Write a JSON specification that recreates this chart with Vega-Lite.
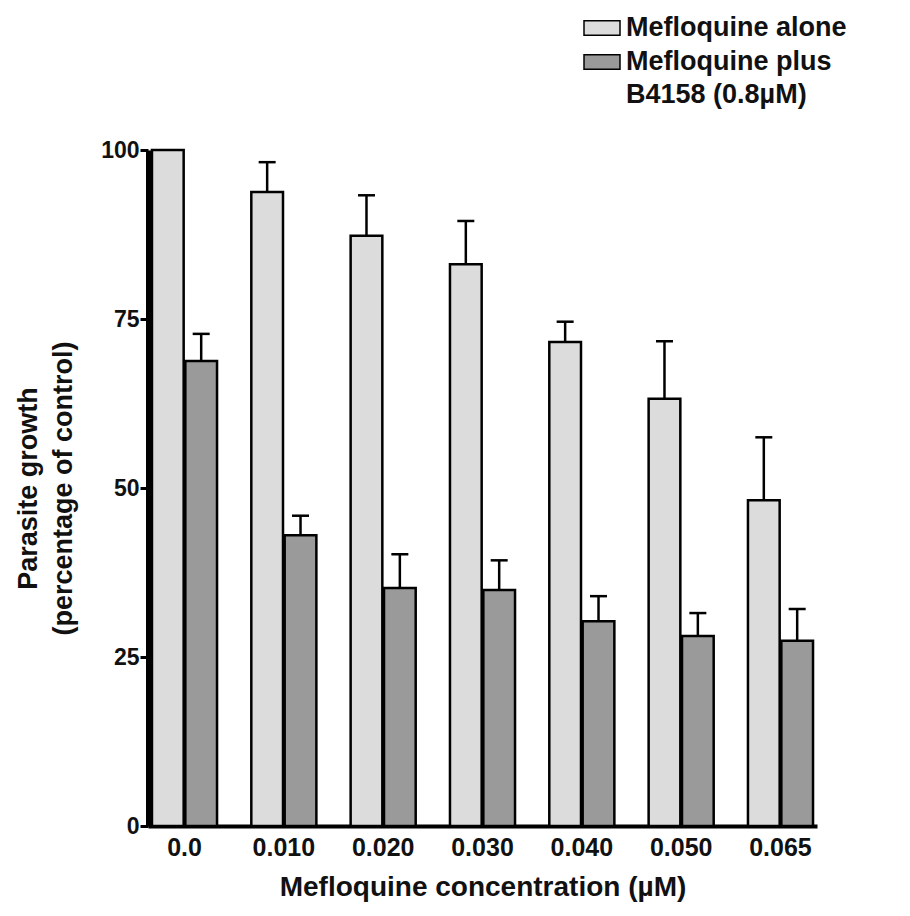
{
  "$schema": "https://vega.github.io/schema/vega-lite/v6.json",
  "autosize": {"type": "none"},
  "width": 669,
  "height": 676,
  "padding": {"left": 148, "top": 150, "right": 93, "bottom": 90},
  "background": "white",
  "config": {
    "view": {"stroke": null},
    "font": "Liberation Sans"
  },
  "data": {
    "values": [
      {"conc": "0.0", "group": "Mefloquine alone", "value": 100, "upper": null},
      {"conc": "0.0", "group": "Mefloquine plus B4158 (0.8µM)", "value": 68.8, "upper": 72.8},
      {"conc": "0.010", "group": "Mefloquine alone", "value": 93.8, "upper": 98.2},
      {"conc": "0.010", "group": "Mefloquine plus B4158 (0.8µM)", "value": 43.0, "upper": 45.9},
      {"conc": "0.020", "group": "Mefloquine alone", "value": 87.3, "upper": 93.3},
      {"conc": "0.020", "group": "Mefloquine plus B4158 (0.8µM)", "value": 35.2, "upper": 40.2},
      {"conc": "0.030", "group": "Mefloquine alone", "value": 83.1, "upper": 89.5},
      {"conc": "0.030", "group": "Mefloquine plus B4158 (0.8µM)", "value": 34.9, "upper": 39.3},
      {"conc": "0.040", "group": "Mefloquine alone", "value": 71.6, "upper": 74.6},
      {"conc": "0.040", "group": "Mefloquine plus B4158 (0.8µM)", "value": 30.3, "upper": 34.0},
      {"conc": "0.050", "group": "Mefloquine alone", "value": 63.2, "upper": 71.7},
      {"conc": "0.050", "group": "Mefloquine plus B4158 (0.8µM)", "value": 28.1, "upper": 31.5},
      {"conc": "0.065", "group": "Mefloquine alone", "value": 48.2, "upper": 57.5},
      {"conc": "0.065", "group": "Mefloquine plus B4158 (0.8µM)", "value": 27.4, "upper": 32.1}
    ]
  },
  "encoding": {
    "x": {
      "field": "conc", "type": "nominal", "sort": null,
      "scale": {"paddingInner": 0.345, "paddingOuter": 0.04},
      "axis": {
        "title": "Mefloquine concentration (µM)",
        "titleFont": "Liberation Sans", "titleFontSize": 28, "titleFontWeight": "bold", "titleColor": "#111",
        "titlePadding": 13,
        "labelAngle": 0, "labelFont": "Liberation Sans", "labelFontSize": 25, "labelFontWeight": "bold", "labelColor": "#111",
        "labelPadding": 9,
        "ticks": false, "domainColor": "#000", "domainWidth": 4, "grid": false
      }
    },
    "xOffset": {
      "field": "group", "type": "nominal",
      "sort": ["Mefloquine alone", "Mefloquine plus B4158 (0.8µM)"],
      "scale": {"paddingInner": 0.05}
    }
  },
  "layer": [
    {
      "mark": {"type": "bar", "stroke": "#000", "strokeWidth": 2.5},
      "encoding": {
        "y": {
          "field": "value", "type": "quantitative",
          "scale": {"domain": [0, 100], "nice": false},
          "axis": {
            "title": ["Parasite growth", "(percentage of control)"],
            "titleFont": "Liberation Sans", "titleFontSize": 27, "titleFontWeight": "bold", "titleColor": "#111",
            "titlePadding": 23, "titleLineHeight": 35,
            "values": [0, 25, 50, 75, 100],
            "labelFont": "Liberation Sans", "labelFontSize": 23, "labelFontWeight": "bold", "labelColor": "#111",
            "labelPadding": 1,
            "tickSize": 8, "tickWidth": 3, "tickColor": "#000",
            "domainColor": "#000", "domainWidth": 5, "grid": false
          }
        },
        "fill": {
          "field": "group", "type": "nominal",
          "sort": ["Mefloquine alone", "Mefloquine plus B4158 (0.8µM)"],
          "scale": {"range": ["#dcdcdc", "#9a9a9a"]},
          "legend": {
            "title": null,
            "orient": "none", "legendX": 435, "legendY": -141,
            "symbolType": "M-1,-0.4H1V0.4H-1Z", "symbolSize": 1296,
            "symbolStrokeColor": "#000", "symbolStrokeWidth": 1.5,
            "labelFont": "Liberation Sans", "labelFontSize": 27, "labelFontWeight": "bold", "labelColor": "#111",
            "labelLimit": 400, "labelOffset": 5, "rowPadding": 2,
            "labelExpr": "datum.label == 'Mefloquine alone' ? datum.label : ['Mefloquine plus', 'B4158 (0.8µM)']",
            "encode": {"labels": {"update": {"lineHeight": {"value": 33}}}}
          }
        }
      }
    },
    {
      "transform": [{"filter": "datum.upper != null"}],
      "mark": {"type": "rule", "color": "#000", "strokeWidth": 2.5},
      "encoding": {
        "y": {"field": "value", "type": "quantitative"},
        "y2": {"field": "upper"}
      }
    },
    {
      "transform": [{"filter": "datum.upper != null"}],
      "mark": {"type": "tick", "orient": "horizontal", "color": "#000", "size": 17, "thickness": 2.5, "opacity": 1},
      "encoding": {
        "y": {"field": "upper", "type": "quantitative"}
      }
    }
  ]
}
